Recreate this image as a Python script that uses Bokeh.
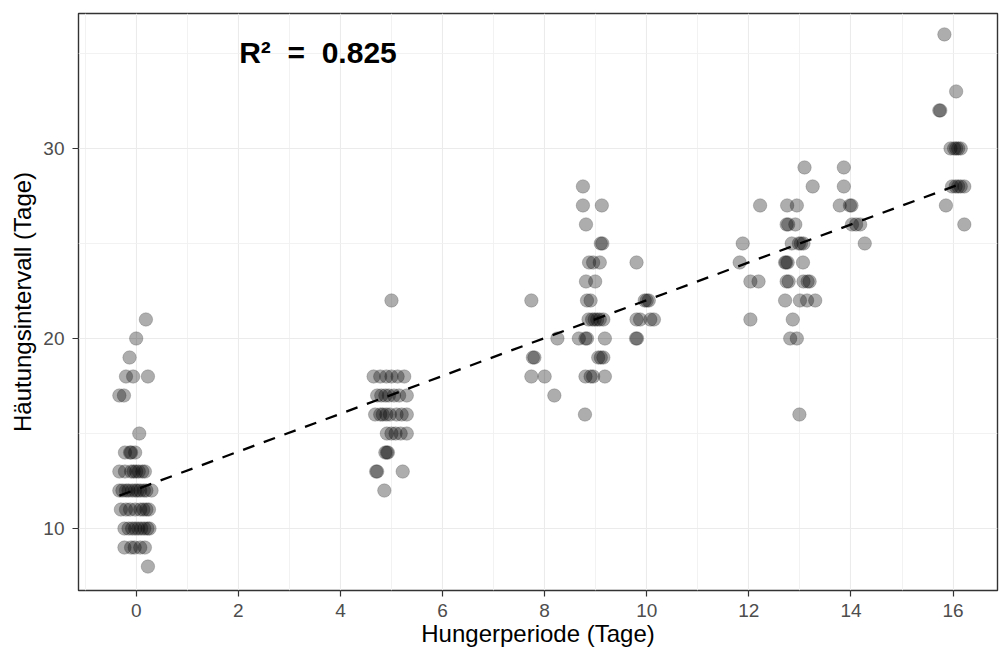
import numpy as np
from bokeh.plotting import figure
from bokeh.models import FixedTicker, Range1d, ColumnDataSource, Label
from bokeh.embed import file_html
from bokeh.resources import INLINE

# ---- data: Hungerperiode (days, jittered) vs. Häutungsintervall (days) ----
g0_x = [0.19, 0.00, -0.13, -0.20, -0.06, 0.23, -0.33, -0.24, 0.06,
        -0.22, -0.12, -0.10, -0.02,
        -0.33, -0.22, -0.10, -0.05, 0.00, 0.05, 0.12, 0.17,
        -0.33, -0.27, -0.20, -0.15, -0.08, -0.02, 0.03, 0.08, 0.15, 0.20, 0.30,
        -0.30, -0.20, -0.12, -0.02, 0.08, 0.14, 0.20, 0.25,
        -0.23, -0.15, -0.08, -0.02, 0.04, 0.10, 0.16, 0.22, 0.26,
        -0.23, -0.10, -0.03, 0.08, 0.17,
        0.23]
g0_y = [21, 20, 19, 18, 18, 18, 17, 17, 15,
        14, 14, 14, 14,
        13, 13, 13, 13, 13, 13, 13, 13,
        12, 12, 12, 12, 12, 12, 12, 12, 12, 12, 12,
        11, 11, 11, 11, 11, 11, 11, 11,
        10, 10, 10, 10, 10, 10, 10, 10, 10,
        9, 9, 9, 9, 9,
        8]

g5_x = [5.00,
        4.65, 4.78, 4.90, 5.00, 5.12, 5.25,
        4.72, 4.80, 4.88, 4.95, 5.05, 5.15, 5.30,
        4.68, 4.78, 4.83, 4.90, 4.97, 5.10, 5.20, 5.30,
        4.91, 5.00, 5.08, 5.18, 5.30,
        4.88, 4.91, 4.93,
        4.70, 4.72, 5.22,
        4.86]
g5_y = [22,
        18, 18, 18, 18, 18, 18,
        17, 17, 17, 17, 17, 17, 17,
        16, 16, 16, 16, 16, 16, 16, 16,
        15, 15, 15, 15, 15,
        14, 14, 14,
        13, 13, 13,
        12]

g9_x = [8.75,
        8.75, 9.12,
        8.81,
        9.10, 9.13,
        8.87, 8.95, 9.08, 9.80,
        8.81, 8.99,
        7.74, 8.83, 8.90, 9.96, 10.00, 10.04,
        8.86, 8.93, 8.98, 9.03, 9.08, 9.15, 9.80, 9.87, 10.07, 10.14,
        8.25, 8.67, 8.80, 8.83, 9.18, 9.79, 9.81,
        7.77, 7.80, 9.05, 9.10, 9.15,
        7.74, 8.00, 8.80, 8.90, 8.95, 9.18,
        8.19,
        8.79]
g9_y = [28,
        27, 27,
        26,
        25, 25,
        24, 24, 24, 24,
        23, 23,
        22, 22, 22, 22, 22, 22,
        21, 21, 21, 21, 21, 21, 21, 21, 21, 21,
        20, 20, 20, 20, 20, 20, 20,
        19, 19, 19, 19, 19,
        18, 18, 18, 18, 18, 18,
        17,
        16]

g13_x = [13.09, 13.86,
         13.25, 13.86,
         12.22, 12.75, 12.94, 13.78, 13.98, 14.01,
         12.74, 12.77, 12.91, 14.02, 14.10, 14.18,
         11.88, 12.84, 12.98, 13.02, 13.07, 14.27,
         11.82, 12.71, 12.73, 12.76, 13.06,
         12.03, 12.19, 12.74, 12.78, 13.07, 13.15, 13.19,
         12.71, 13.00, 13.14, 13.30,
         12.03, 12.86,
         12.81, 12.94,
         12.99]
g13_y = [29, 29,
         28, 28,
         27, 27, 27, 27, 27, 27,
         26, 26, 26, 26, 26, 26,
         25, 25, 25, 25, 25, 25,
         24, 24, 24, 24, 24,
         23, 23, 23, 23, 23, 23, 23,
         22, 22, 22, 22,
         21, 21,
         20, 20,
         16]

g16_x = [15.83, 16.06, 15.73, 15.75,
         15.95, 16.02, 16.06, 16.10, 16.15,
         15.98, 16.05, 16.10, 16.15, 16.22,
         15.86, 16.22]
g16_y = [36, 33, 32, 32,
         30, 30, 30, 30, 30,
         28, 28, 28, 28, 28,
         27, 26]

x_ticks = [0, 2, 4, 6, 8, 10, 12, 14, 16]
x_minor = [-1, 1, 3, 5, 7, 9, 11, 13, 15]
y_ticks = [10, 20, 30]
y_minor = [15, 25, 35]
r2_text = "R\u00b2\u00a0\u00a0=\u00a0\u00a00.825"
r2_pos = (3.56, 35.05)

xs = np.array(g0_x + g5_x + g9_x + g13_x + g16_x)
ys = np.array(g0_y + g5_y + g9_y + g13_y + g16_y, dtype=float)

slope, intercept = np.polyfit(xs, ys, 1)
line_x = np.array([xs.min(), xs.max()])
line_y = intercept + slope * line_x

FONT = "Liberation Sans"

p = figure(width=999, height=653, output_backend="svg", toolbar_location=None,
           x_range=Range1d(-1.13, 16.87), y_range=Range1d(6.74, 37.1),
           min_border_left=78, min_border_right=2, min_border_top=13,
           min_border_bottom=63)

p.background_fill_color = "white"
p.border_fill_color = "white"
p.outline_line_color = "#333333"
p.outline_line_width = 1.4

p.xaxis.ticker = FixedTicker(ticks=x_ticks, minor_ticks=x_minor)
p.yaxis.ticker = FixedTicker(ticks=y_ticks, minor_ticks=y_minor)

for ax in (p.xaxis, p.yaxis):
    ax.axis_line_color = None
    ax.major_tick_line_color = "#333333"
    ax.major_tick_line_width = 1.2
    ax.major_tick_out = 6
    ax.major_tick_in = 0
    ax.minor_tick_line_color = None
    ax.major_label_text_font = FONT
    ax.major_label_text_font_size = "19px"
    ax.major_label_text_color = "#4d4d4d"
    ax.axis_label_text_font = FONT
    ax.axis_label_text_font_size = "24px"
    ax.axis_label_text_font_style = "normal"
    ax.axis_label_text_color = "black"

p.xaxis.axis_label = "Hungerperiode (Tage)"
p.yaxis.axis_label = "Häutungsintervall (Tage)"
p.xaxis.major_label_standoff = 7
p.yaxis.major_label_standoff = 8
p.xaxis.axis_label_standoff = 0
p.yaxis.axis_label_standoff = 4

p.xgrid.grid_line_color = "#ebebeb"
p.ygrid.grid_line_color = "#ebebeb"
p.xgrid.grid_line_width = 1.1
p.ygrid.grid_line_width = 1.1
p.xgrid.minor_grid_line_color = "#f0f0f0"
p.ygrid.minor_grid_line_color = "#f0f0f0"
p.xgrid.minor_grid_line_width = 0.9
p.ygrid.minor_grid_line_width = 0.9

src = ColumnDataSource(dict(x=xs, y=ys))
p.scatter("x", "y", source=src, size=13.5, fill_color="black", fill_alpha=0.32,
          line_color="black", line_alpha=0.22, line_width=0.8)

p.line(line_x, line_y, line_color="black", line_width=2.3, line_dash="12 10")

p.add_layout(Label(x=r2_pos[0], y=r2_pos[1], text=r2_text, text_font=FONT,
                   text_font_size="30px", text_font_style="bold",
                   text_align="center", text_baseline="middle",
                   text_color="black"))

open("out.html", "w").write(file_html(p, INLINE))
